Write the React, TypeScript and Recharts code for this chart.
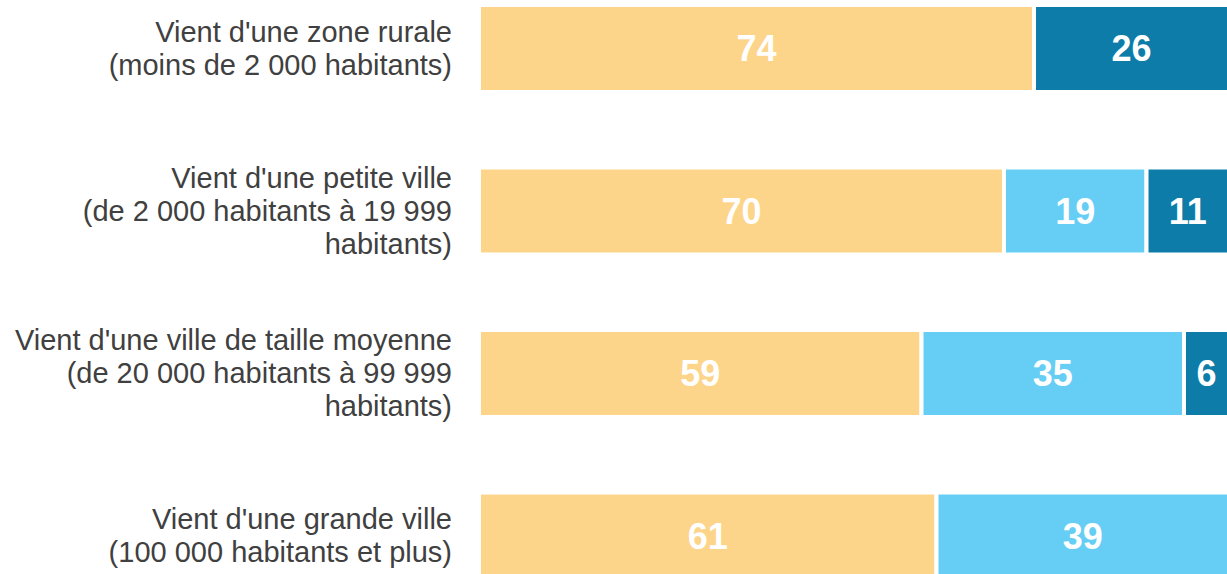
import { BarChart, Bar, XAxis, YAxis, LabelList } from 'recharts';

const categories = [
  "Vient d'une zone rurale\n(moins de 2 000 habitants)",
  "Vient d'une petite ville\n(de 2 000 habitants à 19 999\nhabitants)",
  "Vient d'une ville de taille moyenne\n(de 20 000 habitants à 99 999\nhabitants)",
  "Vient d'une grande ville\n(100 000 habitants et plus)",
];
const orangeValues = [74, 70, 59, 61];
const lightBlueValues = [0, 19, 35, 39];
const darkBlueValues = [26, 11, 6, 0];

const data = categories.map((name, i) => ({
  name,
  a: orangeValues[i],
  b: lightBlueValues[i],
  c: darkBlueValues[i],
}));

const FONT = "'Liberation Sans', Arial, sans-serif";

const MultiLineTick = ({ x, y, payload }: any) => {
  const lines: string[] = String(payload.value).split('\n');
  const lh = 33;
  const start = -((lines.length - 1) * lh) / 2;
  return (
    <text x={x} y={y} textAnchor="end" fill="#404040" fontSize={29} style={{ fontFamily: FONT }}>
      {lines.map((l, i) => (
        <tspan key={i} x={x} dx={-19} y={y + start + i * lh} dy="0.35em">
          {l}
        </tspan>
      ))}
    </text>
  );
};

const hideZero = (v: any) => (v === 0 ? '' : v);

const labelStyle = {
  fill: '#ffffff',
  fontSize: 36,
  fontWeight: 'bold' as const,
  fontFamily: FONT,
};

export default function App() {
  return (
    <div style={{ position: 'absolute', left: 0, top: 0, width: 1227, height: 574, overflow: 'hidden', background: '#fff' }}>
      <div style={{ position: 'relative', top: -33 }}>
        <BarChart
          width={1229}
          height={650}
          data={data}
          layout="vertical"
          margin={{ top: 0, right: 0, bottom: 0, left: 0 }}
        >
          <XAxis type="number" domain={[0, 100]} hide />
          <YAxis
            type="category"
            dataKey="name"
            width={479}
            axisLine={false}
            tickLine={false}
            tick={<MultiLineTick />}
            interval={0}
          />
          <Bar dataKey="a" stackId="s" fill="#FDD58A" stroke="#fff" strokeWidth={4} barSize={87} isAnimationActive={false}>
            <LabelList dataKey="a" position="center" formatter={hideZero} style={labelStyle} />
          </Bar>
          <Bar dataKey="b" stackId="s" fill="#66CEF5" stroke="#fff" strokeWidth={4} barSize={87} isAnimationActive={false}>
            <LabelList dataKey="b" position="center" formatter={hideZero} style={labelStyle} />
          </Bar>
          <Bar dataKey="c" stackId="s" fill="#0D7CA8" stroke="#fff" strokeWidth={4} barSize={87} isAnimationActive={false}>
            <LabelList dataKey="c" position="center" formatter={hideZero} style={labelStyle} />
          </Bar>
        </BarChart>
      </div>
    </div>
  );
}
